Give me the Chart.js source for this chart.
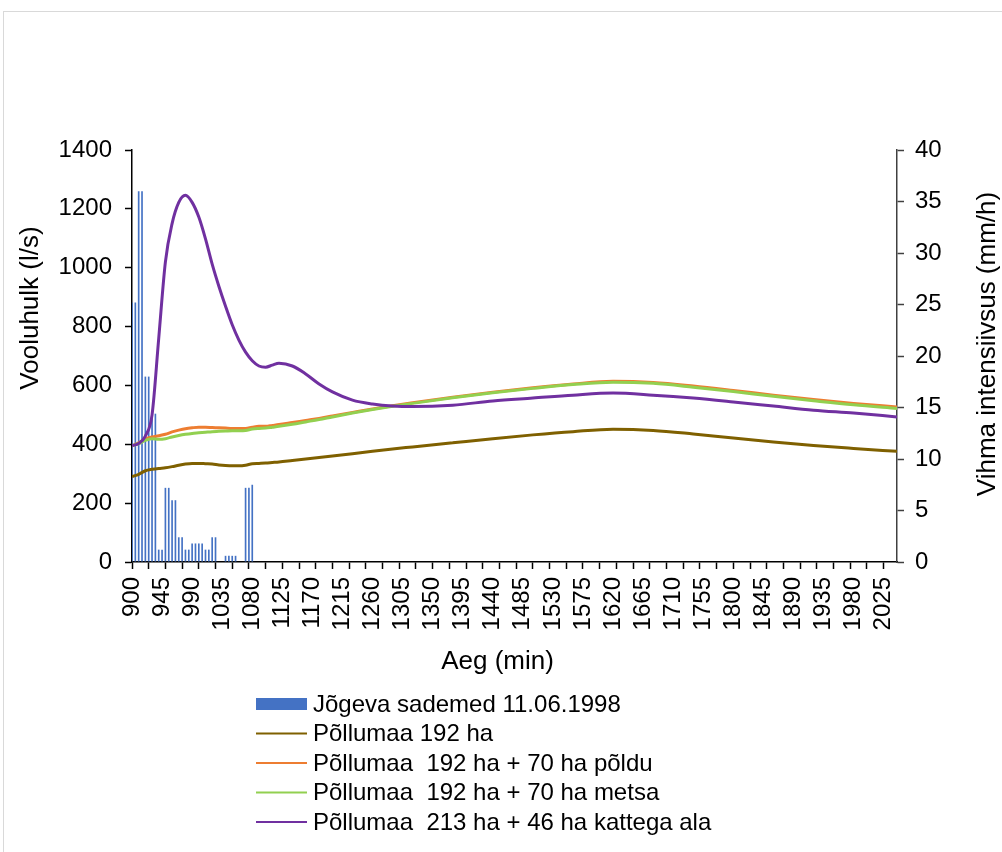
<!DOCTYPE html>
<html>
<head>
<meta charset="utf-8">
<script src="https://cdn.jsdelivr.net/npm/chart.js@4.4.1/dist/chart.umd.min.js"></script>
<style>
  html, body { margin: 0; padding: 0; background: #fff; }
  #wrap { width: 1002px; height: 852px; position: relative; }
</style>
</head>
<body>
<div id="wrap"><canvas id="c" width="1002" height="852"></canvas></div>
<script>
// Rainfall intensity (mm/h), 5-minute steps
const rainTimes = [900, 905, 910, 915, 920, 925, 930, 935, 940, 945, 950, 955, 960, 965, 970, 975,
  980, 985, 990, 995, 1000, 1005, 1010, 1015, 1020, 1025, 1030, 1035, 1040, 1045, 1050, 1055,
  1060, 1065, 1070, 1075, 1080];
const rainIntensity = [25.2, 25.2, 36, 36, 18, 18, 14.4, 14.4, 1.2, 1.2, 7.2, 7.2, 6.0, 6.0, 2.4, 2.4,
  1.2, 1.2, 1.8, 1.8, 1.8, 1.8, 1.2, 1.2, 2.4, 2.4, 0, 0, 0.6, 0.6, 0.6, 0.6,
  0, 0, 7.2, 7.2, 7.5];

// Discharge (l/s) for the four catchment variants
const flowTimes = [900, 910, 920, 930, 940, 950, 960, 970, 980, 990, 1000, 1010, 1020, 1030, 1040,
  1050, 1060, 1070, 1080, 1090, 1100, 1110, 1120, 1140, 1160, 1180, 1200, 1230, 1260, 1290, 1320,
  1380, 1440, 1500, 1560, 1620, 1680, 1740, 1800, 1860, 1920, 1980, 2045];
const flow192 = [290, 298, 310, 315, 318, 320, 324, 329, 333, 335, 335, 334, 333, 330, 328,
  327, 327, 329, 334, 335, 336, 338, 340, 345, 350, 355, 360, 368, 376, 384, 391,
  405, 419, 432, 443, 451, 447, 435, 421, 408, 396, 386, 376];
const flow192Field = [395, 405, 418, 425, 429, 434, 442, 448, 453, 456, 458, 458, 457, 456, 455,
  454, 454, 454, 458, 461, 461, 464, 467, 474, 481, 488, 496, 508, 520, 531, 541,
  560, 577, 592, 605, 614, 610, 598, 583, 567, 552, 539, 527];
const flow192Forest = [395, 402, 413, 419, 417, 419, 425, 430, 434, 437, 439, 441, 443, 444, 445,
  446, 446, 447, 452, 454, 455, 458, 461, 468, 476, 484, 493, 506, 518, 529, 539,
  558, 575, 590, 603, 611, 607, 594, 579, 563, 548, 534, 522];
const flow213Covered = [395, 403, 428, 500, 760, 1020, 1150, 1222, 1246, 1222, 1172, 1098, 1012, 937, 869,
  806, 754, 713, 684, 666, 662, 669, 675, 666, 639, 605, 578, 550, 537, 530, 528,
  533, 547, 557, 567, 574, 567, 557, 544, 530, 516, 506, 493];

const seriesLabels = [
  'Jõgeva sademed 11.06.1998',
  'Põllumaa 192 ha',
  'Põllumaa  192 ha + 70 ha põldu',
  'Põllumaa  192 ha + 70 ha metsa',
  'Põllumaa  213 ha + 46 ha kattega ala'
];

// Axis tick values
const xTickLabels = [900, 945, 990, 1035, 1080, 1125, 1170, 1215, 1260, 1305, 1350, 1395, 1440,
  1485, 1530, 1575, 1620, 1665, 1710, 1755, 1800, 1845, 1890, 1935, 1980, 2025];
const xTickMarks = [900, 925, 950, 975, 1000, 1025, 1050, 1075, 1100, 1125, 1150, 1175, 1200,
  1225, 1250, 1275, 1300, 1325, 1350, 1375, 1400, 1425, 1450, 1475, 1500, 1525, 1550, 1575,
  1600, 1625, 1650, 1675, 1700, 1725, 1750, 1775, 1800, 1825, 1850, 1875, 1900, 1925, 1950,
  1975, 2000, 2025];
const leftTickLabels = [0, 200, 400, 600, 800, 1000, 1200, 1400];
const rightTickLabels = [0, 5, 10, 15, 20, 25, 30, 35, 40];

const FONT = '"Liberation Sans", Arial, sans-serif';
const pts = (xs, ys) => xs.map((x, i) => ({ x, y: ys[i] }));

const lineStyle = (color) => ({
  type: 'line', borderColor: color, backgroundColor: color, borderWidth: 3,
  pointRadius: 0, cubicInterpolationMode: 'monotone', fill: false, yAxisID: 'y'
});

const datasets = [
  { type: 'bar', label: seriesLabels[0], data: pts(rainTimes, rainIntensity), yAxisID: 'y1',
    backgroundColor: '#4472C4', borderWidth: 0, barPercentage: 0.5, categoryPercentage: 1, order: 5 },
  { ...lineStyle('#7F6000'), label: seriesLabels[1], data: pts(flowTimes, flow192), order: 4 },
  { ...lineStyle('#ED7D31'), label: seriesLabels[2], data: pts(flowTimes, flow192Field), order: 3 },
  { ...lineStyle('#92D050'), label: seriesLabels[3], data: pts(flowTimes, flow192Forest), order: 2 },
  { ...lineStyle('#7030A0'), label: seriesLabels[4], data: pts(flowTimes, flow213Covered), order: 1 }
];

// Frame, axis titles and the stacked legend
const decorations = {
  id: 'decorations',
  beforeDraw(chart) {
    const { ctx } = chart;
    ctx.save();
    ctx.strokeStyle = '#d9d9d9';
    ctx.lineWidth = 1;
    ctx.strokeRect(3.5, 11.5, 1200, 1200);
    ctx.restore();
  },
  afterDraw(chart) {
    const { ctx, chartArea: a } = chart;
    ctx.save();
    ctx.fillStyle = '#000';
    ctx.textBaseline = 'middle';
    ctx.textAlign = 'center';
    ctx.font = '26px ' + FONT;
    ctx.fillText('Aeg (min)', (a.left + a.right) / 2 - 17, a.bottom + 100);

    ctx.save();
    ctx.translate(31, 308);
    ctx.rotate(-Math.PI / 2);
    ctx.fillText('Vooluhulk (l/s)', 0, 0);
    ctx.restore();

    ctx.save();
    ctx.translate(988, 344);
    ctx.rotate(-Math.PI / 2);
    ctx.fillText('Vihma intensiivsus (mm/h)', 0, 0);
    ctx.restore();

    // legend, one entry per row
    ctx.textAlign = 'left';
    ctx.font = '24px ' + FONT;
    chart.data.datasets.forEach((ds, i) => {
      const y = 704 + i * 29.5;
      if (ds.type === 'bar') {
        ctx.fillStyle = ds.backgroundColor;
        ctx.fillRect(256, y - 6, 51, 12);
      } else {
        ctx.strokeStyle = ds.borderColor;
        ctx.lineWidth = 2;
        ctx.beginPath();
        ctx.moveTo(256, y);
        ctx.lineTo(307, y);
        ctx.stroke();
      }
      ctx.fillStyle = '#000';
      ctx.fillText(ds.label, 313, y + 1);
    });
    ctx.restore();
  }
};

new Chart(document.getElementById('c'), {
  type: 'line',
  data: { datasets },
  plugins: [decorations],
  options: {
    responsive: false,
    animation: false,
    devicePixelRatio: 1,
    layout: { padding: { top: 150, left: 0, right: 0, bottom: 0 } },
    plugins: { legend: { display: false }, tooltip: { enabled: false } },
    scales: {
      x: {
        type: 'linear', position: 'bottom', min: 900, max: 2045, offset: false,
        grid: { drawOnChartArea: false, offset: false, tickLength: 7, tickWidth: 1.5,
          tickColor: (c) => (c.tick && xTickMarks.includes(c.tick.value)) ? '#000' : 'rgba(0,0,0,0)' },
        border: { display: true, color: '#000', width: 1.5 },
        afterBuildTicks: (s) => {
          const vals = Array.from(new Set([...xTickMarks, ...xTickLabels])).sort((p, q) => p - q);
          s.ticks = vals.map(v => ({ value: v }));
        },
        ticks: {
          autoSkip: false, minRotation: 90, maxRotation: 90, padding: 8, color: '#000',
          font: { family: FONT, size: 24 },
          callback: (v) => xTickLabels.includes(v) ? String(v) : ''
        },
        afterFit: (s) => { s.height = 852 - 562; }
      },
      y: {
        type: 'linear', position: 'left', min: 0, max: 1400,
        grid: { drawOnChartArea: false, tickLength: 7, tickWidth: 1.5, tickColor: '#000' },
        border: { display: true, color: '#000', width: 1.5 },
        ticks: {
          stepSize: 100, padding: 13, color: '#000', font: { family: FONT, size: 24 },
          callback: (v) => leftTickLabels.includes(v) ? String(v) : ''
        },
        afterFit: (s) => { s.width = 132; }
      },
      y1: {
        type: 'linear', position: 'right', min: 0, max: 40,
        grid: { drawOnChartArea: false, tickLength: 7, tickWidth: 1.5, tickColor: '#404040' },
        border: { display: true, color: '#404040', width: 1.5 },
        ticks: {
          stepSize: 5, padding: 11, color: '#000', font: { family: FONT, size: 24 },
          callback: (v) => rightTickLabels.includes(v) ? String(v) : ''
        },
        afterFit: (s) => { s.width = 1002 - 897; }
      }
    }
  }
});
</script>
</body>
</html>
